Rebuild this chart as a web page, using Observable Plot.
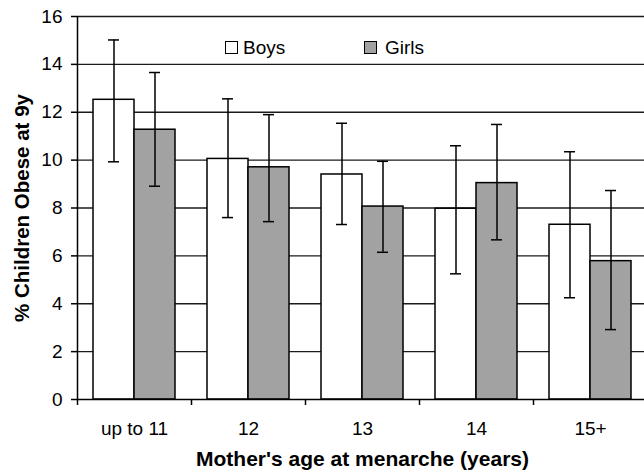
<!DOCTYPE html>
<html><head><meta charset="utf-8">
<script src="https://cdn.jsdelivr.net/npm/d3@7"></script>
<script src="https://cdn.jsdelivr.net/npm/@observablehq/plot@0.6"></script>
<style>
body{margin:0;background:#fff;overflow:hidden}
#wrap{position:relative;width:644px;height:475px}
.lg{position:absolute;font:19px "Liberation Sans",Arial,sans-serif;color:#000;line-height:1;white-space:nowrap}
.sw{position:absolute;width:13px;height:13px;box-sizing:border-box;border:1.5px solid #000}
</style></head><body><div id="wrap"></div>
<script>
const categories = ["up to 11", "12", "13", "14", "15+"];
const boys      = [12.52, 10.05, 9.40, 7.97, 7.30];
const boysLow   = [9.93, 7.60, 7.31, 5.25, 4.25];
const boysHigh  = [15.02, 12.56, 11.54, 10.60, 10.35];
const girls     = [11.27, 9.70, 8.06, 9.04, 5.78];
const girlsLow  = [8.91, 7.43, 6.15, 6.67, 2.92];
const girlsHigh = [13.66, 11.90, 9.95, 11.49, 8.73];
const yTicks = [0, 2, 4, 6, 8, 10, 12, 14, 16];
const seriesNames = ["Boys", "Girls"];
const seriesFill = ["#ffffff", "#a2a2a2"];
const xTitle = "Mother's age at menarche (years)";
const yTitle = "% Children Obese at 9y";

const boysRows = categories.map((c, i) => ({cat: c, v: boys[i], lo: boysLow[i], hi: boysHigh[i]}));
const girlsRows = categories.map((c, i) => ({cat: c, v: girls[i], lo: girlsLow[i], hi: girlsHigh[i]}));

const bw = 1.5;
const chart = Plot.plot({
  width: 644,
  height: 475,
  marginLeft: 77,
  marginRight: 0,
  marginTop: 16,
  marginBottom: 76,
  style: {fontFamily: "'Liberation Sans', Arial, sans-serif", fontSize: "19px", color: "#000", background: "#fff", overflow: "hidden"},
  x: {type: "band", domain: categories, paddingInner: 0, paddingOuter: 0, range: [77, 647]},
  y: {domain: [0, 16], range: [399, 16]},
  marks: [
    Plot.ruleY(yTicks.slice(1), {stroke: "#1a1a1a", strokeWidth: 1.4}),
    Plot.barY(boysRows, {x: "cat", y: "v", fill: seriesFill[0], stroke: "#000", strokeWidth: bw, insetLeft: 16, insetRight: 57}),
    Plot.barY(girlsRows, {x: "cat", y: "v", fill: seriesFill[1], stroke: "#000", strokeWidth: bw, insetLeft: 57, insetRight: 16}),
    Plot.ruleX(boysRows, {x: "cat", y1: "lo", y2: "hi", dx: -20.5, stroke: "#000", strokeWidth: bw}),
    Plot.tickY(boysRows, {x: "cat", y: "hi", insetLeft: 31, insetRight: 72, stroke: "#000", strokeWidth: bw}),
    Plot.tickY(boysRows, {x: "cat", y: "lo", insetLeft: 31, insetRight: 72, stroke: "#000", strokeWidth: bw}),
    Plot.ruleX(girlsRows, {x: "cat", y1: "lo", y2: "hi", dx: 20.5, stroke: "#000", strokeWidth: bw}),
    Plot.tickY(girlsRows, {x: "cat", y: "hi", insetLeft: 72, insetRight: 31, stroke: "#000", strokeWidth: bw}),
    Plot.tickY(girlsRows, {x: "cat", y: "lo", insetLeft: 72, insetRight: 31, stroke: "#000", strokeWidth: bw}),
    Plot.ruleY([0], {stroke: "#000", strokeWidth: bw}),
    Plot.ruleX([categories[0]], {x: d => d, y1: 0, y2: 16, dx: -57, stroke: "#000", strokeWidth: bw}),
    Plot.axisY(yTicks, {tickSize: 6, tickPadding: 9, label: null, stroke: "#000", strokeWidth: bw}),
    Plot.axisX({tickSize: 0, tickPadding: 22, label: null}),
    Plot.axisX({tickSize: 6, tickFormat: () => "", dx: -57, label: null, stroke: "#000", strokeWidth: bw}),
    Plot.text([yTitle], {frameAnchor: "left", textAnchor: "middle", text: d => d, rotate: -90, dx: -55, fontWeight: "bold", fontSize: 20.5}),
    Plot.text([xTitle], {frameAnchor: "bottom", textAnchor: "middle", text: d => d, dy: 66, dx: 1.5, fontWeight: "bold", fontSize: 21})
  ]
});
const wrap = document.getElementById("wrap");
wrap.appendChild(chart);

const legendPos = [{sx: 225, tx: 243}, {sx: 364, tx: 385}];
seriesNames.forEach((name, i) => {
  const sw = document.createElement("div");
  sw.className = "sw";
  sw.style.left = legendPos[i].sx + "px";
  sw.style.top = "41px";
  sw.style.background = seriesFill[i];
  wrap.appendChild(sw);
  const t = document.createElement("div");
  t.className = "lg";
  t.style.left = legendPos[i].tx + "px";
  t.style.top = "38px";
  t.textContent = name;
  wrap.appendChild(t);
});
</script></body></html>
